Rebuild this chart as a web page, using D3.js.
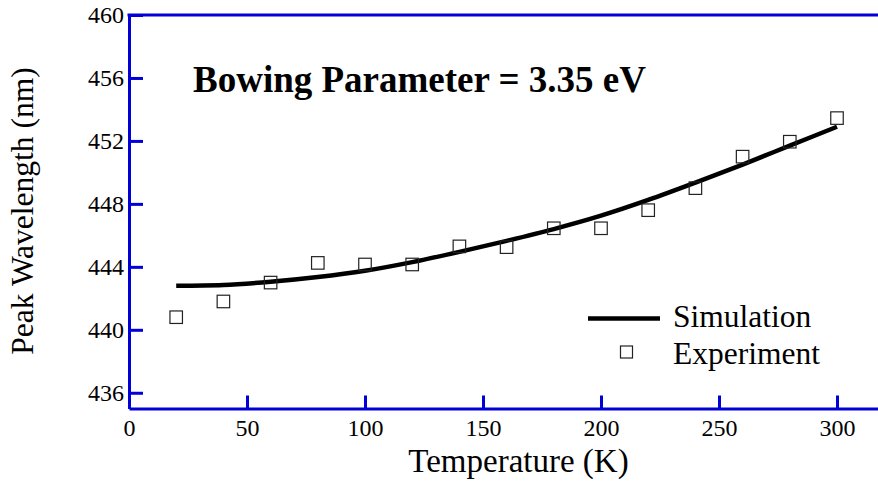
<!DOCTYPE html>
<html>
<head>
<meta charset="utf-8">
<script src="https://cdn.jsdelivr.net/npm/d3@7"></script>
<style>
  html, body { margin: 0; padding: 0; background: #fff; }
  svg { display: block; }
</style>
</head>
<body>
<svg id="chart" width="878" height="499"></svg>
<script>
// ---- data ----
const temps = [20, 40, 60, 80, 100, 120, 140, 160, 180, 200, 220, 240, 260, 280, 300];
const experiment = [440.8, 441.8, 443.0, 444.25, 444.15, 444.15, 445.3, 445.25, 446.45, 446.45, 447.6, 449.0, 451.0, 451.95, 453.45];
const simulation = [442.8, 442.85, 443.05, 443.35, 443.75, 444.3, 444.95, 445.65, 446.4, 447.25, 448.25, 449.35, 450.5, 451.7, 452.9];
const xTicks = [0, 50, 100, 150, 200, 250, 300];
const yTicks = [436, 440, 444, 448, 452, 456, 460];
const title = "Bowing Parameter = 3.35 eV";
const xLabel = "Temperature (K)";
const yLabel = "Peak Wavelength (nm)";
const legendLabels = ["Simulation", "Experiment"];

// ---- layout ----
const W = 878, H = 499;
const mLeft = 129, mTop = 15, mBottom = 408.5;
const blue = "rgb(0,0,215)";
const FONT = '"Liberation Serif", "Times New Roman", Tinos, serif';

const svg = d3.select("#chart");
const x = d3.scaleLinear().domain([0, 320]).range([mLeft, mLeft + 320 * 2.36]);
const y = d3.scaleLinear().domain([435, 460]).range([mBottom, mTop]);

// x axis
const gx = svg.append("g").attr("transform", `translate(0,${mBottom})`)
  .call(d3.axisBottom(x).tickValues(xTicks).tickSizeInner(-13).tickSizeOuter(0).tickPadding(10).tickFormat(d3.format("d")));
gx.select(".domain").attr("stroke", blue).attr("stroke-width", 3);
gx.selectAll(".tick line").attr("stroke", blue).attr("stroke-width", 3);
gx.selectAll(".tick text").style("font-size", "24px").style("font-family", FONT).attr("fill", "#000");

// y axis
const gy = svg.append("g").attr("transform", `translate(${mLeft},0)`)
  .call(d3.axisLeft(y).tickValues(yTicks).tickSizeInner(-14).tickSizeOuter(0).tickPadding(5).tickFormat(d3.format("d")));
gy.select(".domain").attr("stroke", blue).attr("stroke-width", 3);
gy.selectAll(".tick line").attr("stroke", blue).attr("stroke-width", 3);
gy.selectAll(".tick text").style("font-size", "24px").style("font-family", FONT).attr("fill", "#000");

// top frame line
svg.append("line").attr("x1", mLeft - 1.5).attr("x2", W).attr("y1", y(460)).attr("y2", y(460))
  .attr("stroke", blue).attr("stroke-width", 3);

// simulation line
const line = d3.line().x((d, i) => x(temps[i])).y(d => y(d)).curve(d3.curveMonotoneX);
svg.append("path").datum(simulation).attr("d", line)
  .attr("fill", "none").attr("stroke", "#000").attr("stroke-width", 4.5);

// experiment markers
const ms = 12.5;
svg.append("g").selectAll("rect").data(experiment).join("rect")
  .attr("x", (d, i) => x(temps[i]) - ms / 2)
  .attr("y", d => y(d) - ms / 2)
  .attr("width", ms).attr("height", ms)
  .attr("fill", "none").attr("stroke", "#222").attr("stroke-width", 1.2);

function txt(sel, size, weight) {
  return sel.style("font-family", FONT).style("font-size", size + "px")
    .style("font-weight", weight || "normal").attr("fill", "#000");
}

// title
txt(svg.append("text").attr("x", 193).attr("y", 92), 37, "bold").text(title);

// legend
svg.append("line").attr("x1", 588).attr("x2", 660).attr("y1", 318.5).attr("y2", 318.5)
  .attr("stroke", "#000").attr("stroke-width", 4.5);
txt(svg.append("text").attr("x", 673).attr("y", 327), 31.5).text(legendLabels[0]);
svg.append("rect").attr("x", 626.5 - 6).attr("y", 352 - 6).attr("width", 12).attr("height", 12)
  .attr("fill", "none").attr("stroke", "#222").attr("stroke-width", 1.2);
txt(svg.append("text").attr("x", 673).attr("y", 364), 31.5).text(legendLabels[1]);

// axis titles
txt(svg.append("text").attr("x", 518.5).attr("y", 472).attr("text-anchor", "middle"), 33).text(xLabel);
txt(svg.append("text").attr("transform", `translate(33,211) rotate(-90)`).attr("text-anchor", "middle"), 31.5).text(yLabel);
</script>
</body>
</html>
